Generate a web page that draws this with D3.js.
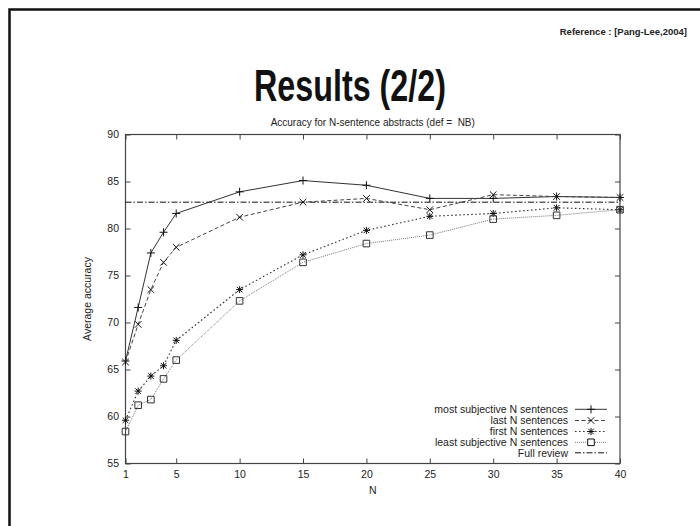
<!DOCTYPE html>
<html>
<head>
<meta charset="utf-8">
<script src="https://cdn.jsdelivr.net/npm/d3@7"></script>
<style>
  body { margin: 0; background: #fff; }
  text { font-family: "Liberation Sans", Arial, sans-serif; white-space: pre; }
</style>
</head>
<body>
<div id="chart"></div>
<script>
// N values on the x axis
let nValues = [1, 2, 3, 4, 5, 10, 15, 20, 25, 30, 35, 40];

// accuracy series
let mostSubjective  = [65.9, 71.6, 77.4, 79.6, 81.6, 83.9, 85.1, 84.6, 83.2, 83.2, 83.4, 83.3];
let lastN           = [65.8, 69.8, 73.5, 76.4, 78.0, 81.2, 82.8, 83.2, 82.0, 83.6, 83.4, 83.3];
let firstN          = [59.6, 62.7, 64.3, 65.4, 68.1, 73.5, 77.2, 79.8, 81.3, 81.6, 82.2, 82.0];
let leastSubjective = [58.4, 61.2, 61.8, 64.0, 66.0, 72.3, 76.4, 78.4, 79.3, 81.0, 81.4, 82.0];
let fullReview = 82.8;

let xTicks = [1, 5, 10, 15, 20, 25, 30, 35, 40];
let yTicks = [55, 60, 65, 70, 75, 80, 85, 90];

let seriesNames = ["most subjective N sentences", "last N sentences", "first N sentences",
                   "least subjective N sentences", "Full review"];

let width = 700, height = 526;

let svg = d3.select("#chart").append("svg")
    .attr("width", width)
    .attr("height", height);

// slide frame (only top and left edges show)
svg.append("path")
    .attr("d", "M9.5,526 V9.5 H700")
    .attr("fill", "none")
    .attr("stroke", "#111")
    .attr("stroke-width", 2.5);

svg.append("text")
    .attr("x", 687).attr("y", 35)
    .attr("text-anchor", "end")
    .attr("font-size", 9.5)
    .attr("font-weight", "bold")
    .attr("fill", "#222")
    .text("Reference : [Pang-Lee,2004]");

svg.append("text")
    .attr("x", 350).attr("y", 101)
    .attr("text-anchor", "middle")
    .attr("font-size", 44)
    .attr("font-weight", "bold")
    .attr("fill", "#111")
    .attr("textLength", 192)
    .attr("lengthAdjust", "spacingAndGlyphs")
    .text("Results (2/2)");

let x = d3.scaleLinear().domain([1, 40]).range([125.5, 620]);
let y = d3.scaleLinear().domain([55, 90]).range([463.5, 134.5]);

let axisColor = "#444";

// plot box
svg.append("rect")
    .attr("x", x(1)).attr("y", y(90))
    .attr("width", x(40) - x(1)).attr("height", y(55) - y(90))
    .attr("fill", "none")
    .attr("stroke", axisColor)
    .attr("stroke-width", 1.2);

function styleAxis(g) {
    g.select(".domain").remove();
    g.selectAll(".tick line").attr("stroke", axisColor).attr("stroke-width", 1);
    g.selectAll(".tick text").attr("fill", "#222").attr("font-size", 10.5)
        .attr("font-family", "Liberation Sans, Arial, sans-serif");
}

svg.append("g")
    .attr("transform", `translate(0,${y(55)})`)
    .call(d3.axisBottom(x).tickValues(xTicks).tickSizeInner(-5).tickSizeOuter(0).tickPadding(7))
    .call(styleAxis);
svg.append("g")
    .attr("transform", `translate(0,${y(90)})`)
    .call(d3.axisTop(x).tickValues(xTicks).tickSizeInner(-5).tickSizeOuter(0).tickFormat(""))
    .call(styleAxis);
svg.append("g")
    .attr("transform", `translate(${x(1)},0)`)
    .call(d3.axisLeft(y).tickValues(yTicks).tickSizeInner(-5).tickSizeOuter(0).tickPadding(6.5))
    .call(styleAxis);
svg.append("g")
    .attr("transform", `translate(${x(40)},0)`)
    .call(d3.axisRight(y).tickValues(yTicks).tickSizeInner(-5).tickSizeOuter(0).tickFormat(""))
    .call(styleAxis);

// titles
svg.append("text")
    .attr("x", (x(1) + x(40)) / 2).attr("y", 126)
    .attr("text-anchor", "middle")
    .attr("font-size", 10)
    .attr("fill", "#222")
    .text("Accuracy for N-sentence abstracts (def =  NB)");

svg.append("text")
    .attr("x", (x(1) + x(40)) / 2).attr("y", 494)
    .attr("text-anchor", "middle")
    .attr("font-size", 10.5)
    .attr("fill", "#222")
    .text("N");

svg.append("text")
    .attr("transform", `translate(90.5,${(y(55) + y(90)) / 2}) rotate(-90)`)
    .attr("text-anchor", "middle")
    .attr("font-size", 10.5)
    .attr("fill", "#222")
    .text("Average accuracy");

// marker shapes
function marker(type, s) {
    if (type === "plus") return `M${-s},0H${s}M0,${-s}V${s}`;
    if (type === "cross") return `M${-s},${-s}L${s},${s}M${-s},${s}L${s},${-s}`;
    if (type === "star") return `M${-s},0H${s}M0,${-s}V${s}M${-s*0.8},${-s*0.8}L${s*0.8},${s*0.8}M${-s*0.8},${s*0.8}L${s*0.8},${-s*0.8}`;
    if (type === "square") return `M${-s},${-s}H${s}V${s}H${-s}Z`;
    return "";
}

let series = [
    { name: seriesNames[0], values: mostSubjective, color: "#333", dash: null, width: 1, mark: "plus", size: 4 },
    { name: seriesNames[1], values: lastN, color: "#444", dash: "4,2.5", width: 1, mark: "cross", size: 3.3 },
    { name: seriesNames[2], values: firstN, color: "#333", dash: "1.6,2.4", width: 1.1, mark: "star", size: 3.5 },
    { name: seriesNames[3], values: leastSubjective, color: "#777", dash: "1,1", width: 1, mark: "square", size: 3.3 }
];

let line = d3.line()
    .x((d, i) => x(nValues[i]))
    .y(d => y(d));

// full review reference line
svg.append("line")
    .attr("x1", x(1)).attr("x2", x(40))
    .attr("y1", y(fullReview)).attr("y2", y(fullReview))
    .attr("stroke", "#111")
    .attr("stroke-width", 1)
    .attr("stroke-dasharray", "6,2,1.5,2");

series.forEach(function(s) {
    svg.append("path")
        .datum(s.values)
        .attr("d", line)
        .attr("fill", "none")
        .attr("stroke", s.color)
        .attr("stroke-width", s.width)
        .attr("stroke-dasharray", s.dash);

    svg.selectAll(null)
        .data(s.values)
        .enter().append("path")
        .attr("transform", (d, i) => `translate(${x(nValues[i])},${y(d)})`)
        .attr("d", marker(s.mark, s.size))
        .attr("fill", "none")
        .attr("stroke", s.mark === "square" ? "#333" : "#111")
        .attr("stroke-width", 1);
});

// legend
let legendY = [409.3, 420.5, 431.5, 442.3, 452.8];
let legendItems = series.concat([{ name: seriesNames[4], color: "#111", dash: "6,2,1.5,2", width: 1, mark: null }]);

legendItems.forEach(function(s, i) {
    let ly = legendY[i];
    svg.append("text")
        .attr("x", 568).attr("y", ly + 3.7)
        .attr("text-anchor", "end")
        .attr("font-size", 10.5)
        .attr("fill", "#222")
        .text(s.name);
    svg.append("line")
        .attr("x1", 575).attr("x2", 607)
        .attr("y1", ly).attr("y2", ly)
        .attr("stroke", s.color)
        .attr("stroke-width", s.width)
        .attr("stroke-dasharray", s.dash);
    if (s.mark) {
        svg.append("path")
            .attr("transform", `translate(591,${ly})`)
            .attr("d", marker(s.mark, s.size))
            .attr("fill", s.mark === "square" ? "#fff" : "none")
            .attr("stroke", "#111")
            .attr("stroke-width", 1);
    }
});
</script>
</body>
</html>
